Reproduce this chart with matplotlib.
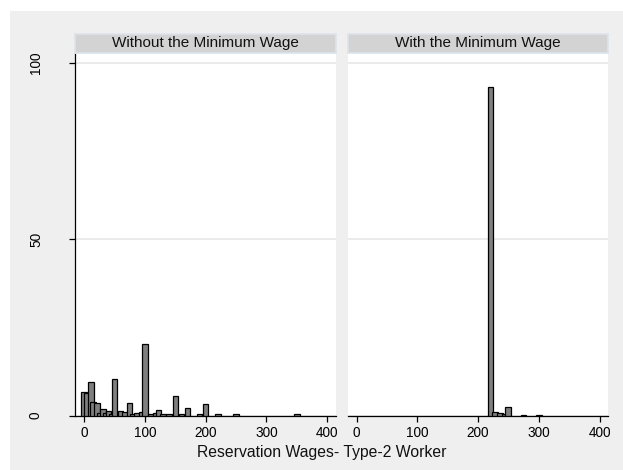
import matplotlib
matplotlib.use("Agg")
import matplotlib.pyplot as plt
from matplotlib.patches import Rectangle

plt.rcParams['font.family'] = ['Liberation Sans', 'DejaVu Sans']

# Percent of workers by reservation wage
panel_titles = ["Without the Minimum Wage", "With the Minimum Wage"]

wage_no_min = [0, 5, 11, 15, 21, 26, 31, 36, 40, 45, 50, 60, 67, 75, 80, 87, 94,
               100, 110, 118, 122, 130, 140, 150, 160, 170, 190, 200, 220, 250, 350]
pct_no_min = [6.7, 6.5, 9.4, 3.7, 3.5, 0.6, 1.9, 0.8, 1.2, 0.5, 10.3, 1.2, 1.0, 3.5, 0.4, 0.8, 0.9,
              20.3, 0.5, 0.8, 1.5, 0.5, 0.3, 5.4, 0.3, 2.0, 0.3, 3.2, 0.3, 0.3, 0.3]

wage_min = [220, 228, 236, 243, 249, 275, 300]
pct_min = [93.1, 1.0, 0.6, 0.3, 2.3, 0.2, 0.2]

x_ticks = [0, 100, 200, 300, 400]
y_ticks = [0, 50, 100]
x_title = "Reservation Wages- Type-2 Worker"

W, H = 623, 470
fig = plt.figure(figsize=(W / 100, H / 100), dpi=100, facecolor="white")

# light grey graph region
fig.patches.append(Rectangle((10 / W, 0), 1 - 10 / W, (H - 11) / H,
                             transform=fig.transFigure, facecolor="#EFEFEF",
                             edgecolor="none", zorder=-5))

bar_w = 9
panels = [(wage_no_min, pct_no_min, 75.3), (wage_min, pct_min, 347.7)]
ax_w = 260.5
top_px, bot_px = 53, 415.5
strip_top = 34

for i, (xs, ys, left_px) in enumerate(panels):
    ax = fig.add_axes([left_px / W, (H - bot_px) / H, ax_w / W, (bot_px - top_px) / H])
    ax.set_facecolor("white")
    ax.bar(xs, ys, width=bar_w, color="#7F7F7F", edgecolor="black", linewidth=0.9, zorder=3)
    ax.set_xlim(-14.5, 414)
    ax.set_ylim(0, 102.7)
    ax.set_xticks(x_ticks)
    ax.set_yticks(y_ticks)
    ax.yaxis.grid(True, color="#E6E6E6", linewidth=1.1, zorder=0)
    ax.set_axisbelow(True)
    for s in ["top", "right"]:
        ax.spines[s].set_visible(False)
    ax.spines["bottom"].set_color("black")
    ax.spines["bottom"].set_linewidth(0.9)
    ax.tick_params(axis="x", length=4.3, width=0.9, pad=3, labelsize=9.8, colors="black")
    if i == 0:
        ax.spines["left"].set_color("black")
        ax.spines["left"].set_linewidth(0.9)
        ax.tick_params(axis="y", length=4.3, width=0.9, pad=19, labelsize=9.8)
        for lab in ax.get_yticklabels():
            lab.set_rotation(90)
            lab.set_va("center")
    else:
        ax.spines["left"].set_visible(False)
        ax.tick_params(axis="y", left=False, labelleft=False)

    # panel strip
    sax = fig.add_axes([left_px / W, (H - top_px) / H, ax_w / W, (top_px - strip_top) / H])
    sax.set_facecolor("#D3D3D3")
    for s in sax.spines.values():
        s.set_color("#DCE4EA")
        s.set_linewidth(1.2)
    sax.set_xticks([])
    sax.set_yticks([])
    sax.text(0.5, 0.5, panel_titles[i], ha="center", va="center",
             fontsize=11, color="#111111", transform=sax.transAxes)

fig.text(322 / W, (H - 453) / H, x_title, ha="center", va="center", fontsize=11.3, color="#111111")

fig.savefig("out.png", dpi=100, facecolor="white")
